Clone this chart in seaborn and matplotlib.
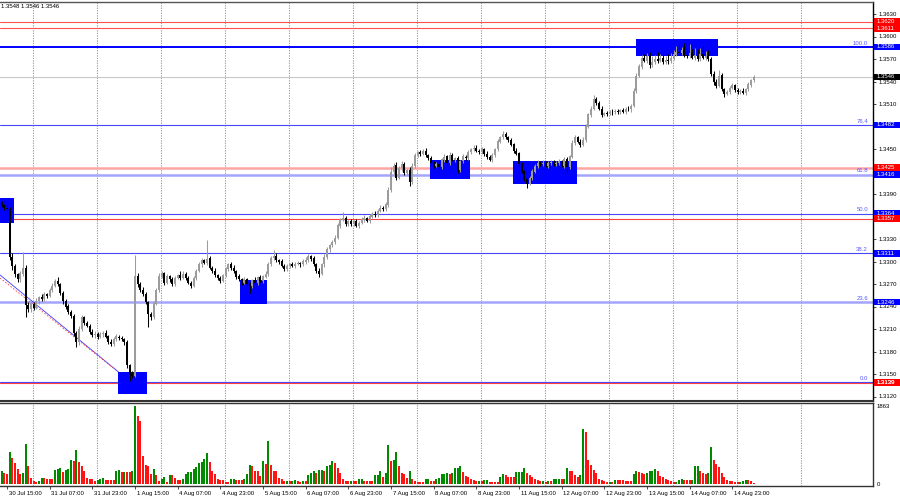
import numpy as np
import pandas as pd
import matplotlib
matplotlib.use("Agg")
import matplotlib.pyplot as plt
import matplotlib.transforms as mtransforms
from matplotlib.patches import Rectangle
import seaborn as sns

# ---------------- data (prices in pips above 1.3000, H1 bars) ----------------
first_bar = -2          # bar index of first candle (bar 0 = 30 Jul 15:00)
first_open_pips = 378
close_pips = [
    375, 372,
    370, 306, 294, 283, 276, 284, 292, 242, 236, 244,
    238, 248, 252, 250, 256, 254, 262, 268, 274, 270,
    258, 248, 240, 232, 228, 205, 192, 210, 226, 218,
    214, 206, 202, 204, 200, 203, 205, 200, 193, 190,
    196, 200, 198, 196, 192, 162, 150, 148, 280, 270,
    262, 256, 246, 230, 226, 244, 262, 280, 284, 272,
    280, 276, 270, 278, 282, 278, 284, 278, 272, 268,
    278, 288, 296, 302, 298, 304, 292, 288, 282, 278,
    274, 282, 290, 296, 292, 287, 280, 276, 272, 276,
    270, 268, 275, 272, 279, 274, 280, 284, 296, 305,
    308, 302, 300, 294, 290, 294, 296, 294, 297, 298,
    296, 300, 302, 307, 304, 296, 288, 284, 296, 306,
    316, 322, 326, 332, 348, 356, 358, 350, 354, 350,
    354, 348, 352, 356, 358, 354, 360, 364, 362, 368,
    372, 370, 376, 395, 420, 428, 412, 425, 430, 418,
    422, 406, 428, 442, 446, 444, 448, 442, 438, 432,
    428, 430, 426, 436, 440, 432, 442, 436, 438, 422,
    434, 440, 438, 446, 450, 452, 448, 446, 450, 444,
    440, 436, 442, 450, 460, 466, 470, 466, 462, 456,
    448, 444, 430, 420, 410, 404, 412, 420, 428, 432,
    430, 432, 428, 431, 433, 430, 432, 434, 428, 436,
    426, 440, 458, 466, 460, 456, 462, 480, 496, 504,
    516, 512, 504, 496, 498, 497, 500, 499, 501, 500,
    502, 500, 504, 503, 508, 528, 548, 560, 572, 568,
    574, 562, 566, 570, 568, 571, 566, 569, 567, 572,
    576, 580, 578, 582, 576, 574, 578, 572, 575, 570,
    576, 572, 574, 570, 550, 540, 534, 548, 530, 524,
    526, 532, 535, 529, 526, 528, 525, 530, 536, 542, 546,
]
hi_ext = [
    3, 2,
    4, 3, 6, 3, 2, 3, 21, 3, 4, 3,
    2, 3, 2, 4, 3, 2, 3, 4, 3, 5,
    2, 3, 2, 4, 3, 2, 3, 4, 3, 2,
    3, 2, 4, 3, 2, 3, 2, 4, 2, 3,
    3, 4, 2, 3, 2, 3, 2, 4, 29, 5,
    3, 4, 3, 2, 3, 4, 3, 5, 3, 2,
    3, 2, 4, 3, 2, 5, 3, 2, 3, 2,
    3, 2, 4, 3, 2, 25, 3, 2, 4, 2,
    3, 2, 3, 2, 4, 3, 2, 3, 2, 3,
    2, 3, 2, 4, 2, 3, 2, 3, 4, 2,
    7, 3, 2, 3, 2, 3, 2, 3, 2, 3,
    2, 3, 4, 3, 2, 3, 2, 3, 2, 4,
    3, 2, 3, 4, 3, 2, 8, 3, 2, 3,
    2, 3, 2, 3, 4, 2, 3, 2, 3, 2,
    3, 2, 3, 4, 6, 3, 5, 3, 4, 3,
    2, 4, 3, 3, 2, 3, 2, 3, 2, 3,
    2, 3, 4, 2, 3, 2, 4, 3, 2, 3,
    2, 3, 2, 3, 2, 3, 4, 2, 3, 2,
    3, 2, 3, 2, 3, 2, 4, 3, 2, 3,
    2, 3, 2, 3, 2, 3, 2, 3, 2, 3,
    2, 3, 2, 3, 2, 3, 2, 3, 2, 3,
    3, 2, 4, 3, 2, 3, 4, 3, 2, 3,
    6, 3, 2, 3, 2, 3, 2, 3, 2, 3,
    2, 3, 2, 3, 2, 3, 4, 3, 4, 5,
    4, 6, 8, 5, 9, 6, 7, 5, 8, 6,
    6, 8, 10, 4, 9, 7, 12, 6, 10, 8,
    9, 11, 7, 8, 3, 4, 3, 8, 3, 2,
    3, 2, 3, 2, 3, 2, 3, 2, 3, 2, 3,
]
lo_ext = [
    2, 3,
    3, 4, 6, 4, 3, 4, 3, 16, 3, 4,
    3, 2, 4, 3, 2, 3, 2, 3, 2, 3,
    3, 4, 3, 2, 3, 4, 6, 3, 2, 3,
    2, 3, 2, 4, 3, 2, 3, 2, 3, 2,
    3, 2, 3, 2, 3, 4, 9, 3, 2, 4,
    3, 2, 3, 17, 4, 3, 2, 3, 2, 3,
    2, 3, 2, 3, 2, 3, 2, 3, 2, 3,
    2, 3, 2, 3, 2, 3, 2, 3, 2, 3,
    3, 2, 3, 2, 3, 2, 3, 2, 3, 2,
    3, 10, 3, 2, 3, 2, 3, 2, 3, 2,
    3, 2, 3, 2, 3, 2, 3, 2, 3, 2,
    3, 2, 3, 2, 3, 2, 3, 5, 2, 3,
    2, 3, 2, 3, 2, 3, 2, 3, 2, 3,
    3, 2, 3, 2, 3, 2, 3, 2, 3, 2,
    2, 3, 2, 3, 2, 4, 3, 2, 4, 3,
    3, 5, 2, 3, 2, 3, 2, 3, 2, 3,
    3, 2, 3, 2, 3, 2, 3, 2, 3, 4,
    2, 3, 2, 3, 2, 3, 2, 3, 2, 3,
    3, 2, 3, 2, 3, 2, 3, 2, 3, 2,
    3, 2, 3, 2, 3, 6, 2, 3, 2, 3,
    2, 3, 2, 3, 2, 3, 2, 3, 2, 3,
    8, 3, 2, 3, 2, 3, 2, 3, 2, 3,
    2, 3, 2, 3, 2, 3, 2, 3, 2, 3,
    3, 2, 3, 2, 3, 2, 3, 2, 3, 2,
    3, 4, 3, 2, 3, 2, 3, 2, 3, 2,
    3, 2, 3, 2, 3, 2, 3, 2, 3, 2,
    3, 2, 3, 2, 3, 4, 3, 2, 3, 5,
    2, 3, 2, 3, 2, 3, 2, 3, 2, 3, 2,
]
volume = [
    308, 270,
    230, 770, 630, 500, 370, 230, 253, 960, 437, 140,
    77, 55, 60, 155, 150, 130, 128, 110, 330, 370,
    375, 285, 345, 350, 575, 560, 805, 520, 420, 310,
    135, 130, 128, 75, 90, 130, 155, 100, 92, 88,
    85, 310, 330, 285, 290, 285, 280, 300, 1863, 1633,
    1510, 667, 445, 440, 230, 360, 208, 77, 130, 170,
    40, 208, 205, 155, 100, 95, 115, 230, 285, 290,
    360, 408, 500, 515, 600, 730, 515, 308, 230, 130,
    92, 85, 54, 50, 115, 130, 100, 98, 96, 115,
    230, 460, 423, 322, 308, 192, 540, 485, 1035, 460,
    308, 300, 155, 115, 77, 80, 70, 80, 85, 60,
    54, 75, 70, 208, 270, 308, 253, 330, 345, 308,
    437, 460, 540, 500, 385, 270, 115, 77, 75, 78,
    76, 74, 115, 130, 77, 75, 72, 70, 208, 210,
    322, 177, 253, 920, 560, 575, 770, 423, 270, 230,
    155, 322, 115, 77, 54, 52, 50, 115, 118, 77,
    75, 115, 155, 230, 250, 270, 230, 253, 385, 390,
    437, 285, 192, 177, 130, 92, 77, 80, 78, 92,
    95, 54, 52, 50, 48, 177, 230, 208, 177, 175,
    174, 285, 287, 290, 385, 253, 208, 170, 115, 92,
    60, 77, 40, 77, 75, 115, 118, 120, 115, 118,
    385, 308, 300, 208, 177, 208, 1303, 1242, 577, 460,
    345, 253, 130, 92, 77, 54, 56, 52, 92, 90,
    88, 86, 77, 76, 74, 230, 308, 285, 253, 230,
    270, 308, 322, 360, 308, 192, 170, 130, 92, 77,
    54, 56, 100, 115, 92, 90, 88, 92, 423, 437,
    308, 253, 250, 270, 882, 577, 485, 408, 253, 177,
    92, 77, 75, 40, 38, 54, 77, 92, 90, 77, 25,
]

tick_bars = list(range(0, 273, 16))
tick_labels = ["30 Jul 15:00", "31 Jul 07:00", "31 Jul 23:00", "1 Aug 15:00",
               "4 Aug 07:00", "4 Aug 23:00", "5 Aug 15:00", "6 Aug 07:00",
               "6 Aug 23:00", "7 Aug 15:00", "8 Aug 07:00", "8 Aug 23:00",
               "11 Aug 15:00", "12 Aug 07:00", "12 Aug 23:00", "13 Aug 15:00",
               "14 Aug 07:00", "14 Aug 23:00"]

price_ticks = [1.3120, 1.3150, 1.3180, 1.3210, 1.3240, 1.3270, 1.3300, 1.3330,
               1.3360, 1.3390, 1.3420, 1.3450, 1.3480, 1.3510, 1.3540, 1.3570,
               1.3600, 1.3630]
# tick labels fully covered by level boxes on the terminal's price scale
covered_ticks = [1.3360, 1.3420, 1.3480]

# fibonacci levels (blue) and their labels
fib_levels = [1.3586, 1.3482, 1.3416, 1.3364, 1.3311, 1.3246, 1.3139]
fib_names = ["100.0", "76.4", "61.8", "50.0", "38.2", "23.6", "0.0"]
fib_colors = ["#0000ff", "#4646ff", "#a4a4ff", "#4646ff", "#4646ff", "#a4a4ff", "#4646ff"]
fib_widths = [1.4, 0.8, 1.8, 0.8, 0.8, 1.8, 0.8]
# red levels
red_levels = [1.3620, 1.3611, 1.3425, 1.3357, 1.31385]
red_names = ["1.3620", "1.3611", "1.3425", "1.3357", "1.3139"]
red_colors = ["#ff5050", "#ff5050", "#ffa4a4", "#ff4040", "#ff4040"]
red_widths = [0.8, 0.8, 1.8, 0.8, 0.8]
current_price = 1.3546
header_text = "1.3548 1.3546 1.3546"

# blue zones (bar start, bar end, price low, price high)
zone_start = [-4.0, 41.6, 87.4, 158.6, 189.7, 235.9]
zone_end = [2.6, 52.5, 97.5, 173.6, 213.7, 266.6]
zone_low = [1.3351, 1.3124, 1.3243, 1.3410, 1.3404, 1.3574]
zone_high = [1.3385, 1.3153, 1.3275, 1.3435, 1.3434, 1.3597]

# trend lines (bar, price)
trend_bars = [-2.6, 45.5]
trend_blue = [1.3282, 1.3142]
trend_red = [1.3278, 1.3142]

vol_max_label = 1863

# ---------------- derived series ----------------
PIP = 1e-4
BASE = 1.3
bars = np.arange(first_bar, first_bar + len(close_pips))
closes = BASE + np.array(close_pips) * PIP
opens = np.concatenate([[BASE + first_open_pips * PIP], closes[:-1]])
highs = np.maximum(opens, closes) + np.array(hi_ext) * PIP
lows = np.minimum(opens, closes) - np.array(lo_ext) * PIP
vol = np.array(volume)
vol_dir = ["up"] + ["up" if vol[i] > vol[i - 1] else "down" for i in range(1, len(vol))]
vdf = pd.DataFrame({"bar": bars, "volume": vol, "dir": vol_dir})

# ---------------- layout (pixel geometry of the terminal) ----------------
W, H = 900, 500
PX_PER_BAR = 8 / 3
X0_PX = 7.0
PLOT_RIGHT = 873
PX_PER_PRICE = 7500.0      # 0.75 px per pip
REF_PRICE, REF_Y = 1.3630, 14.0


def px2bar(px):
    return (px - X0_PX) / PX_PER_BAR


def y2price(y):
    return REF_PRICE - (y - REF_Y) / PX_PER_PRICE


sns.set_theme(style="white")
plt.rcParams["font.family"] = ["Liberation Sans", "DejaVu Sans"]
FS = 4.3

fig = plt.figure(figsize=(W / 100, H / 100), dpi=100)
fig.patch.set_facecolor("white")
main_top, main_bot = 2, 401
vol_top, vol_bot = 403, 486
ax = fig.add_axes([0, 1 - main_bot / H, PLOT_RIGHT / W, (main_bot - main_top) / H])
axv = fig.add_axes([0, 1 - vol_bot / H, PLOT_RIGHT / W, (vol_bot - vol_top) / H])

xlim = (px2bar(0), px2bar(PLOT_RIGHT))
grid_bars = [px2bar(32.7 + 64 * j) for j in range(13)]

# ---------------- main pane ----------------
ax.set_xlim(*xlim)
ax.set_ylim(y2price(main_bot), y2price(main_top))
ax.set_facecolor("white")

for gb in grid_bars:
    ax.axvline(gb, color="#9c9c9c", lw=0.75, ls=(0, (1.2, 1.2)), zorder=1)

# horizontal levels (behind zones)
for lv, c, w in zip(fib_levels, fib_colors, fib_widths):
    ax.axhline(lv, color=c, lw=w, zorder=1.5)
for lv, c, w in zip(red_levels, red_colors, red_widths):
    ax.axhline(lv, color=c, lw=w, zorder=1.5)
ax.axhline(current_price, color="#c8c8c8", lw=0.8, zorder=1.4)

# trend lines
ax.plot(trend_bars, trend_blue, color="#3c3cff", lw=0.6, zorder=1.6)
ax.plot(trend_bars, trend_red, color="#ff4040", lw=0.6, ls=(0, (2, 2)), zorder=1.6)

# zones
for s, e, lo, hi in zip(zone_start, zone_end, zone_low, zone_high):
    ax.add_patch(Rectangle((s, lo), e - s, hi - lo, facecolor="#0000ff",
                           edgecolor="none", zorder=2))

# candles
bull = closes >= opens
ccol = np.where(bull, "#9c9c9c", "#000000")
body_h = np.maximum(np.abs(closes - opens), 0.6 / PX_PER_PRICE)
ax.vlines(bars, lows, highs, colors=ccol, lw=0.75, zorder=3)
ax.bar(bars, body_h, bottom=np.minimum(opens, closes), width=0.78,
       color=ccol, linewidth=0, zorder=3.1)

# fib labels
blend = mtransforms.blended_transform_factory(ax.transAxes, ax.transData)
for lv, name in zip(fib_levels, fib_names):
    ax.text(868 / PLOT_RIGHT, lv + 1.2 / PX_PER_PRICE, name, transform=blend,
            ha="right", va="bottom", fontsize=FS, color="#5a5aff", zorder=5)

# right price axis
ax.yaxis.tick_right()
ax.set_yticks(price_ticks)
ax.set_yticklabels(["" if any(abs(p - c) < 1e-6 for c in covered_ticks) else f"{p:.4f}"
                    for p in price_ticks])
ax.tick_params(axis="y", which="both", right=True, length=2.5, width=0.5,
               pad=1.2, labelsize=FS, colors="#000000")
ax.set_xticks([])
ax.spines["left"].set_visible(False)
ax.spines["top"].set_color("#555555")
ax.spines["top"].set_linewidth(1.0)
ax.spines["right"].set_color("#000000")
ax.spines["right"].set_linewidth(1.0)
ax.spines["bottom"].set_color("#333333")
ax.spines["bottom"].set_linewidth(1.5)

# price label boxes on the axis
box_w = 26 / PLOT_RIGHT
box_h = 6.8 / PX_PER_PRICE


def price_box(level, text, color):
    ax.add_patch(Rectangle((1.0 + 0.8 / PLOT_RIGHT, level - box_h / 2), box_w, box_h,
                           transform=blend, facecolor=color, edgecolor="none",
                           clip_on=False, zorder=6))
    ax.text(1.0 + 4 / PLOT_RIGHT, level, text, transform=blend, ha="left",
            va="center", fontsize=FS, color="white", clip_on=False, zorder=7)


for lv in fib_levels:
    price_box(lv, f"{lv:.4f}", "#0000ff")
for lv, name in zip(red_levels, red_names):
    price_box(lv, name, "#ff0000")
price_box(current_price, f"{current_price:.4f}", "#000000")

# header text
fig.text(1.0 / W, 1 - 6.5 / H, header_text, fontsize=FS, color="#000000",
         ha="left", va="center")

# ---------------- volume pane ----------------
sns.barplot(data=vdf, x="bar", y="volume", hue="dir",
            palette={"up": "#008a00", "down": "#ff1414"},
            native_scale=True, width=0.75, dodge=False, errorbar=None,
            legend=False, linewidth=0, saturation=1, ax=axv)
vscale = vol_max_label / 78.0
axv.set_xlim(*xlim)
axv.set_ylim(-2 * vscale, vol_max_label + 3 * vscale)
for gb in grid_bars:
    axv.axvline(gb, color="#9c9c9c", lw=0.75, ls=(0, (1.2, 1.2)), zorder=0.5)
axv.yaxis.tick_right()
axv.set_yticks([0, vol_max_label])
axv.set_yticklabels(["0", str(vol_max_label)])
axv.tick_params(axis="y", right=True, length=0, pad=2.5, labelsize=FS, colors="#000000")
axv.set_xticks(tick_bars)
axv.set_xticklabels(tick_labels)
axv.tick_params(axis="x", bottom=True, length=2.2, width=0.5, pad=1.2,
                labelsize=FS, colors="#000000", direction="out")
offset = mtransforms.ScaledTranslation(1.2 / 72, 0, fig.dpi_scale_trans)
for lab in axv.get_xticklabels():
    lab.set_ha("left")
    lab.set_transform(lab.get_transform() + offset)
axv.set_xlabel("")
axv.set_ylabel("")
axv.spines["left"].set_visible(False)
for sp in ["top", "right", "bottom"]:
    axv.spines[sp].set_color("#333333")
    axv.spines[sp].set_linewidth(1.0)
axv.set_facecolor("white")

fig.savefig("out.png", dpi=100, facecolor="white")
